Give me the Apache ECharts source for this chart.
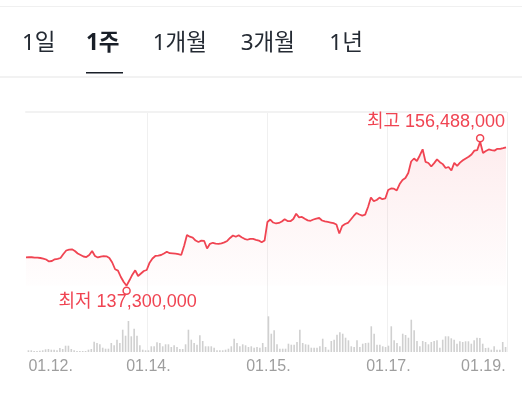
<!DOCTYPE html>
<html>
<head>
<meta charset="utf-8">
<script src="https://cdn.jsdelivr.net/npm/echarts@6/dist/echarts.min.js"></script>
<style>
html,body{margin:0;padding:0;background:#fff;}
#chart{width:522px;height:396px;}
</style>
</head>
<body>
<div id="chart"></div>
<script>
// ---- data ----
const tabs = ['1일', '1주', '1개월', '3개월', '1년'];
const selectedTab = '1주';
const tickIndices = [0, 42, 84, 126, 167];
const tickLabels = ['01.12.', '01.14.', '01.15.', '01.17.', '01.19.'];
const gridLineIndices = [42, 84, 126];

const prices = [141080000,141110000,141090000,141050000,141040000,140990000,140920000,140790000,140530000,140590000,
140820000,140880000,140990000,141520000,141990000,142120000,142150000,141920000,141590000,141390000,
141190000,141120000,141390000,141920000,141260000,141060000,141180000,141230000,141220000,140990000,
140390000,139490000,139310000,138460000,137790000,137300000,138020000,138770000,139350000,138590000,
138930000,139260000,139390000,140370000,140920000,141260000,141320000,141390000,141590000,141830000,
141630000,141620000,141580000,141520000,141390000,142590000,144060000,143830000,143720000,143320000,
143120000,143300000,143260000,142260000,142880000,143020000,142910000,142880000,142950000,143080000,
143260000,143660000,143990000,143820000,144020000,143760000,143550000,143420000,143550000,143540000,
143420000,143320000,143080000,143320000,145790000,146120000,145720000,145590000,145660000,145860000,
146160000,145920000,145900000,146190000,146890000,146410000,146470000,146210000,146000000,145950000,
146120000,146250000,146320000,145990000,145860000,145790000,145720000,145630000,145460000,144260000,
145260000,145520000,145660000,146120000,146590000,146990000,146790000,146650000,146770000,147790000,
149050000,148560000,148720000,149040000,148830000,148920000,150050000,150250000,150230000,149990000,
150850000,151390000,151650000,152320000,153850000,154250000,153920000,154650000,155480000,153800000,
153650000,153180000,153640000,154130000,153760000,153500000,152980000,153120000,152650000,153660000,
153280000,153700000,154010000,154260000,154480000,154780000,155300000,155380000,156488000,154980000,
155250000,155450000,155370000,155300000,155540000,155520000,155620000,155740000];

const volumes = [17,17,10,10,13,17,27,30,23,23,
17,40,30,63,63,30,17,10,10,10,
10,23,30,103,90,77,43,33,33,90,
67,123,90,223,163,310,157,233,163,67,
23,17,17,57,57,97,90,57,77,77,
50,67,50,30,30,77,223,123,90,73,
167,110,57,57,57,43,17,17,17,23,
33,57,133,90,57,77,67,50,57,43,
50,43,
90,50,357,183,217,77,33,33,33,83,
73,73,100,223,90,77,73,43,43,43,
57,133,50,23,110,123,173,197,183,143,
117,57,50,117,50,83,90,93,257,183,
73,73,57,50,63,257,117,90,57,183,
170,143,323,
217,110,57,110,100,77,100,110,117,43,
123,157,157,137,123,83,107,100,107,107,
83,117,143,140,83,40,43,23,57,23,
23,100,50];

const categories = prices.map((_, i) => String(i));

// ---- styles ----
const RED = '#f04452';
const LABEL_FONT = "'Liberation Sans','Noto Sans CJK KR',sans-serif";
const TAB_FONT = "'Noto Sans','Noto Sans CJK KR',sans-serif";
const fmt = v => Number(v).toLocaleString('en-US');

const chart = echarts.init(document.getElementById('chart'), null, {renderer: 'canvas'});

const tabX = [22, 86, 152.7, 240.7, 329.3];
const graphics = [
  {type: 'rect', shape: {x: 0, y: 6, width: 522, height: 1}, style: {fill: '#f0f0f0'}, silent: true},
  {type: 'rect', shape: {x: 0, y: 76, width: 522, height: 2}, style: {fill: '#f2f2f2'}, silent: true}
];
tabs.forEach((t, k) => {
  const sel = t === selectedTab;
  graphics.push({
    type: 'text', left: tabX[k], top: 32,
    style: {text: t, font: (sel ? 'bold ' : '') + '22.5px ' + TAB_FONT, fill: sel ? '#191f28' : '#242a33'}
  });
  if (sel) {
    graphics.push({type: 'rect', shape: {x: tabX[k], y: 72, width: 37, height: 1.5}, style: {fill: '#191f28'}});
  }
});

const option = {
  animation: false,
  backgroundColor: '#fff',
  graphic: graphics,
  grid: [
    {left: 26, right: 16, top: 112, bottom: 110.3},
    {left: 27, right: 15, top: 112, bottom: 44}
  ],
  xAxis: [
    {
      type: 'category', gridIndex: 0, data: categories, boundaryGap: false, position: 'top',
      axisLine: {show: true, lineStyle: {color: '#f2f2f2', width: 2}},
      axisTick: {show: false}, axisLabel: {show: false}, splitLine: {show: false}
    },
    {
      type: 'category', gridIndex: 1, data: categories, boundaryGap: true,
      axisLine: {show: false}, axisTick: {show: false},
      axisLabel: {
        interval: (idx) => tickIndices.indexOf(idx) >= 0,
        formatter: (v, idx) => {
          const k = tickIndices.indexOf(Number(v));
          return k >= 0 ? tickLabels[k] : '';
        },
        color: '#9e9e9e', fontSize: 16, fontFamily: LABEL_FONT, margin: 7,
        alignMinLabel: 'left', alignMaxLabel: 'right'
      },
      splitLine: {
        show: true,
        interval: (idx) => gridLineIndices.indexOf(idx) >= 0,
        lineStyle: {color: '#f0f0f0', width: 1}
      }
    }
  ],
  yAxis: [
    {type: 'value', gridIndex: 0, min: 137300000, max: 160446000, show: false, splitLine: {show: false}},
    {type: 'value', gridIndex: 1, min: 0, max: 2400, show: false, splitLine: {show: false}}
  ],
  series: [
    {
      type: 'bar', xAxisIndex: 1, yAxisIndex: 1, data: volumes,
      barWidth: 1.6, itemStyle: {color: '#d0d0d0'}, silent: true
    },
    {
      type: 'line', xAxisIndex: 0, yAxisIndex: 0, data: prices,
      showSymbol: false, symbol: 'none',
      lineStyle: {color: RED, width: 1.8},
      areaStyle: {
        color: new echarts.graphic.LinearGradient(0, 0, 0, 1, [
          {offset: 0, color: 'rgba(240,68,82,0.14)'},
          {offset: 1, color: 'rgba(240,68,82,0.01)'}
        ])
      },
      markPoint: {
        symbol: 'circle', symbolSize: 7,
        itemStyle: {color: '#fff', borderColor: RED, borderWidth: 1.5},
        label: {color: RED, fontSize: 18, fontFamily: LABEL_FONT},
        data: [
          {
            type: 'max', symbolOffset: [0, -3.5],
            label: {
              position: 'inside', align: 'right', verticalAlign: 'middle', offset: [25, -16],
              formatter: p => '최고 ' + fmt(p.value)
            }
          },
          {
            type: 'min', symbolOffset: [0, 5],
            label: {
              position: 'inside', align: 'center', verticalAlign: 'middle', offset: [1, 11],
              formatter: p => '최저 ' + fmt(p.value)
            }
          }
        ]
      }
    }
  ]
};
chart.setOption(option);
</script>
</body>
</html>
